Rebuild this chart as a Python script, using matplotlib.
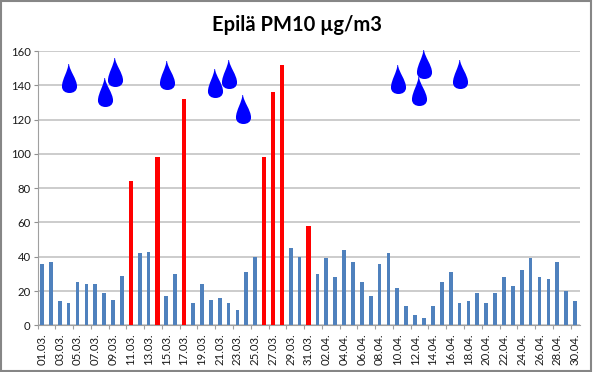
import matplotlib
matplotlib.use("Agg")
import matplotlib.pyplot as plt
from matplotlib.path import Path
from matplotlib.patches import Rectangle

plt.rcParams['font.family'] = ['Lato', 'DejaVu Sans']

march = [36, 37, 14, 13, 25, 24, 24, 19, 15, 29, 84, 42, 43, 98, 17, 30, 132, 13, 24, 15, 16, 13, 9, 31, 40, 98, 136, 152, 45, 40, 58]
april = [30, 39, 28, 44, 37, 25, 17, 36, 42, 22, 11, 6, 4, 11, 25, 31, 13, 14, 19, 13, 19, 28, 23, 32, 39, 28, 27, 37, 20, 14]
values = march + april
labels = [f"{i+1:02d}.03." for i in range(31)] + [f"{i+1:02d}.04." for i in range(30)]
exceed_limit = 50
rain_x = [3.04, 7.09, 8.2, 14.07, 19.47, 21.04, 22.6, 40.05, 42.97, 42.4, 47.1]
rain_y = [144.5, 135.8, 148, 146, 141.3, 146.6, 126.2, 143.4, 152.4, 136.7, 146.6]

W, H = 593, 372
fig = plt.figure(figsize=(W/100, H/100), dpi=100)
ax = fig.add_axes([37.5/W, 1-325.3/H, 542/W, 274.3/H])

x = list(range(len(values)))
low_x = [i for i in x if values[i] <= exceed_limit]
high_x = [i for i in x if values[i] > exceed_limit]
ax.bar(low_x, [values[i] for i in low_x], width=0.42, color='#4F81BD', zorder=3)
ax.bar(high_x, [values[i] for i in high_x], width=0.48, color='#FF0000', zorder=3)

# raindrop marker: thin tip at top, round body at bottom
k = 0.52
raw = [(-0.16, 1.0), (-0.16, 0.55), (-1.0, -0.05), (-1.0, -0.55),
       (-1.0, -0.85), (-0.55, -1.0), (0.0, -1.0),
       (0.55, -1.0), (1.0, -0.85), (1.0, -0.55),
       (1.0, -0.05), (0.0, 0.55), (-0.06, 1.0), (-0.16, 1.0)]
drop = Path([(px*k, py) for px, py in raw],
    [Path.MOVETO, Path.CURVE4, Path.CURVE4, Path.CURVE4,
     Path.CURVE4, Path.CURVE4, Path.CURVE4,
     Path.CURVE4, Path.CURVE4, Path.CURVE4,
     Path.CURVE4, Path.CURVE4, Path.CURVE4, Path.CLOSEPOLY])
ax.scatter(rain_x, rain_y, marker=drop, s=436, color='#0000FF', linewidths=0, zorder=5, clip_on=False)

ax.set_xlim(-0.5, len(values)-0.5)
ax.set_ylim(0, 160)
ax.set_yticks(range(0, 161, 20))
ax.set_xticks(x[::2])
ax.set_xticklabels(labels[::2], rotation=90, fontsize=8.2, color='#1a1a1a')
ax.tick_params(axis='y', labelsize=8.2, labelcolor='#1a1a1a', length=3, width=0.8, color='#909090', pad=2)
ax.tick_params(axis='x', length=0, pad=6)
ax.set_xticks([i-0.5 for i in range(0, len(values)+1, 2)], minor=True)
ax.tick_params(axis='x', which='minor', length=3, width=0.8, color='#a0a0a0')
ax.grid(axis='y', color='#c4c4c4', linewidth=1.2, zorder=0)
ax.set_axisbelow(True)
for s in ['top', 'right']:
    ax.spines[s].set_visible(False)
for s in ['left', 'bottom']:
    ax.spines[s].set_color('#a0a0a0')
    ax.spines[s].set_linewidth(0.8)

fig.text(296.5/W, 1-25/H, 'Epilä PM10 µg/m3', ha='center', va='center', fontsize=14.5, fontweight='bold', color='black')

fig.add_artist(Rectangle((0.7/W, 1-370.7/H), 590/W, 370/H, transform=fig.transFigure,
                         fill=False, edgecolor='#868686', linewidth=1.5))
fig.savefig('out.png', dpi=100)
